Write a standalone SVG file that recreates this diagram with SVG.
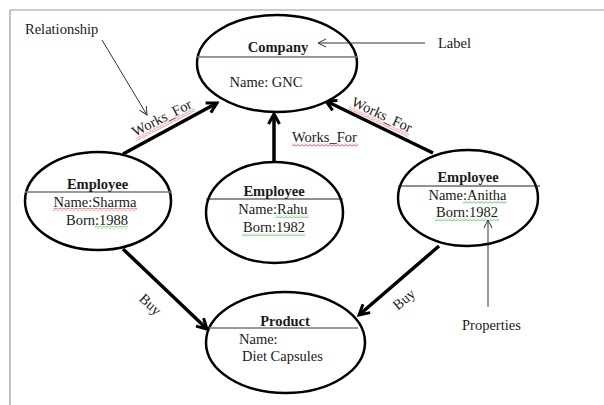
<svg xmlns="http://www.w3.org/2000/svg" width="604" height="405" viewBox="0 0 604 405">
<style>
  text { font-family: "Liberation Serif", "Times New Roman", serif; font-size: 14.5px; fill: #1a1a1a; }
  .b { font-weight: bold; }
  .m { text-anchor: middle; }
  .node { fill: #fff; stroke: #000; stroke-width: 2.5; }
  .sep { stroke: #777; stroke-width: 1.5; }
  .sepd { stroke: #222; stroke-width: 1; }
  .edge { fill: none; stroke: #000; stroke-width: 3.5; marker-end: url(#thick); }
  .note { fill: none; stroke: #333; stroke-width: 1; marker-end: url(#thin); }
  .frame { stroke: #999; stroke-width: 1.2; }
  .sqr { fill: url(#wavyR); }
  .sqg { fill: url(#wavyG); }
</style>
<defs>
  <marker id="thick" viewBox="0 0 14 14" markerWidth="14" markerHeight="14" markerUnits="userSpaceOnUse" refX="11.5" refY="7" orient="auto">
    <path d="M1.5,1.5 L11.5,7 L1.5,12.5" fill="none" stroke="#000" stroke-width="3"/>
  </marker>
  <marker id="thin" viewBox="0 0 10 10" markerWidth="10" markerHeight="10" markerUnits="userSpaceOnUse" refX="9" refY="5" orient="auto">
    <path d="M1,1 L9,5 L1,9" fill="none" stroke="#333" stroke-width="1"/>
  </marker>
  <pattern id="wavyR" width="4" height="3" patternUnits="userSpaceOnUse">
    <path d="M0,2.2 L2,0.6 L4,2.2" fill="none" stroke="#e22" stroke-width="0.8"/>
  </pattern>
  <pattern id="wavyG" width="4" height="3" patternUnits="userSpaceOnUse">
    <path d="M0,2.2 L2,0.6 L4,2.2" fill="none" stroke="#4b4" stroke-width="0.8"/>
  </pattern>
</defs>

<g id="frame">
  <line class="frame" x1="10" y1="10" x2="604" y2="10"/>
  <line class="frame" x1="10" y1="10" x2="10" y2="405"/>
</g>

<g id="connectors">
  <path class="edge" d="M123,154 L217,103"/>
  <path class="edge" d="M274,162 L274,114"/>
  <path class="edge" d="M433,153 L326,101"/>
  <path class="edge" d="M123,249 L207,329"/>
  <path class="edge" d="M439,246 L359,315"/>
</g>

<g id="edge-labels">
  <g transform="translate(164,122) rotate(-27)">
    <text class="m" x="0" y="0">Works_For</text>
    <rect class="sqr" x="-33" y="1.5" width="66" height="3"/>
  </g>
  <text x="292" y="142">Works_For</text>
  <rect class="sqr" x="292" y="143.5" width="66" height="3"/>
  <g transform="translate(380,119) rotate(25)">
    <text class="m" x="0" y="0">Works_For</text>
    <rect class="sqr" x="-33" y="1.5" width="66" height="3"/>
  </g>
  <text class="m" transform="translate(147,308) rotate(43)" x="0" y="0">Buy</text>
  <text class="m" transform="translate(407,303) rotate(-40)" x="0" y="0">Buy</text>
</g>

<g id="company">
  <ellipse class="node" cx="277" cy="63.5" rx="80" ry="48.5"/>
  <line class="sep" x1="197" y1="57" x2="358" y2="57"/>
  <text class="b m" x="278" y="52">Company</text>
  <text class="m" x="266" y="87">Name: GNC</text>
</g>

<g id="employee-sharma">
  <ellipse class="node" cx="98" cy="201" rx="73" ry="49"/>
  <line class="sep" x1="25" y1="192" x2="172" y2="192"/>
  <text class="b m" x="97.5" y="189">Employee</text>
  <text class="m" x="95" y="207">Name:Sharma</text>
  <rect class="sqr" x="53" y="208" width="84" height="3"/>
  <text class="m" x="97" y="225">Born:1988</text>
  <rect class="sqg" x="95" y="226" width="33" height="3"/>
</g>

<g id="employee-rahu">
  <ellipse class="node" cx="274.5" cy="212.5" rx="68.5" ry="50.5"/>
  <line class="sepd" x1="206" y1="199" x2="343" y2="199"/>
  <text class="b m" x="274" y="196">Employee</text>
  <text class="m" x="273" y="214">Name:Rahu</text>
  <rect class="sqg" x="275" y="215" width="34" height="3"/>
  <text class="m" x="274" y="232">Born:1982</text>
  <rect class="sqg" x="242" y="233" width="63" height="3"/>
</g>

<g id="employee-anitha">
  <ellipse class="node" cx="468" cy="198" rx="70" ry="48"/>
  <line class="sepd" x1="398" y1="186" x2="540" y2="186"/>
  <text class="b m" x="468" y="182">Employee</text>
  <text class="m" x="467.5" y="200">Name:Anitha</text>
  <rect class="sqg" x="463" y="201" width="44" height="3"/>
  <text class="m" x="467" y="217">Born:1982</text>
  <rect class="sqg" x="435" y="218" width="64" height="3"/>
</g>

<g id="product">
  <ellipse class="node" cx="285.5" cy="342.5" rx="79.5" ry="50.5"/>
  <line class="sep" x1="209" y1="328" x2="358" y2="328"/>
  <text class="b m" x="285" y="326">Product</text>
  <text x="239" y="344">Name:</text>
  <text x="242" y="361">Diet Capsules</text>
</g>

<g id="annotations">
  <text x="25" y="34">Relationship</text>
  <path class="note" d="M102,40 L147,115"/>
  <text x="438" y="48">Label</text>
  <path class="note" d="M425,43 L318,43"/>
  <text x="462" y="330">Properties</text>
  <path class="note" d="M488,307 L488,220"/>
</g>
</svg>
